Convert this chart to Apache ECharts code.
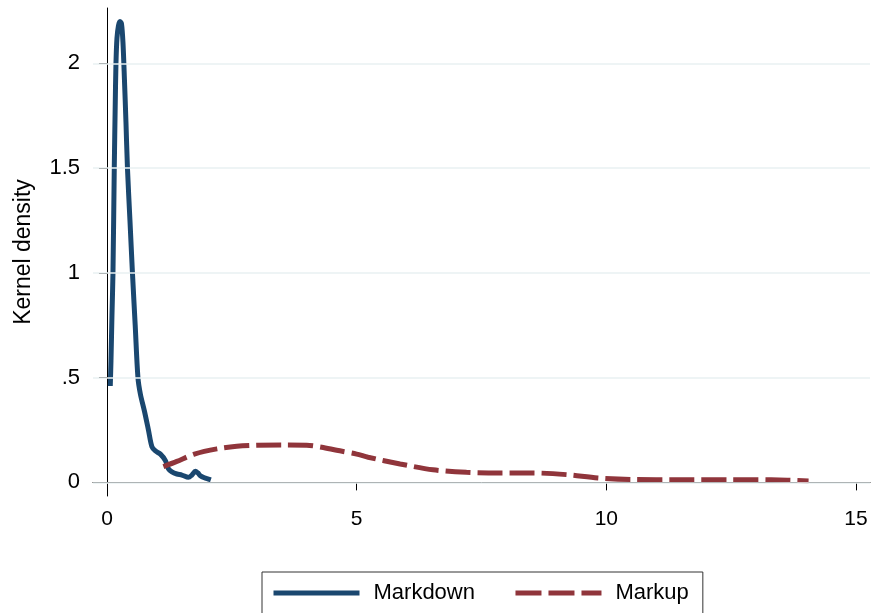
<!DOCTYPE html>
<html>
<head>
<meta charset="utf-8">
<script src="https://cdn.jsdelivr.net/npm/echarts@6/dist/echarts.min.js"></script>
<style>
html,body{margin:0;padding:0;background:#fff;}
#chart{width:871px;height:613px;}
</style>
</head>
<body>
<div id="chart"></div>
<script>
var seriesNames = ['Markdown', 'Markup'];
var xTicks = [0, 5, 10, 15];
var yTicks = [0, 0.5, 1, 1.5, 2];
var yTickLabels = ['0', '.5', '1', '1.5', '2'];
var markdownPoints = [
  [0.066,0.46],[0.08,0.58],[0.1,0.8],[0.12,1.0],[0.146,1.5],[0.165,1.8],[0.18,2.0],[0.2,2.12],
  [0.23,2.18],[0.26,2.2],[0.29,2.19],[0.32,2.1],[0.35,1.92],[0.38,1.72],[0.41,1.5],[0.46,1.25],
  [0.51,1.0],[0.565,0.75],[0.62,0.5],[0.67,0.42],[0.75,0.34],[0.83,0.25],[0.9,0.17],[0.97,0.15],
  [1.07,0.135],[1.17,0.104],[1.23,0.065],[1.3,0.05],[1.4,0.04],[1.5,0.035],[1.63,0.024],
  [1.7,0.035],[1.77,0.053],[1.82,0.045],[1.87,0.032],[1.95,0.022],[2.03,0.016],[2.08,0.012]
];
var markupPoints = [
  [1.13,0.075],[1.4,0.1],[1.75,0.135],[2.2,0.16],[2.6,0.172],[3.0,0.177],[3.5,0.178],[4.0,0.177],
  [4.3,0.168],[4.6,0.153],[5.0,0.135],[5.23,0.12],[5.87,0.088],[6.53,0.06],[7.2,0.048],[7.87,0.045],
  [8.53,0.045],[9.2,0.037],[9.83,0.021],[10.5,0.014],[11.5,0.013],[12.5,0.013],[13.3,0.012],[14.05,0.007]
];

var chart = echarts.init(document.getElementById('chart'), null, {renderer: 'canvas'});
var font = '"Liberation Sans", Arial, sans-serif';
var navy = '#1a476f';
var maroon = '#90353b';
var option = {
  animation: false,
  backgroundColor: '#fff',
  grid: {left: 93, right: 1, top: 8, bottom: 117, containLabel: false},
  xAxis: {
    type: 'value', min: -0.28, max: 15.28,
    axisLine: {show: true, lineStyle: {color: '#000', width: 1}},
    axisTick: {show: true, length: 8, lineStyle: {color: '#000'}, customValues: xTicks},
    axisLabel: {customValues: xTicks, color: '#000', fontSize: 21, fontFamily: font, margin: 13},
    splitLine: {show: false}
  },
  yAxis: {
    type: 'value', min: -0.065, max: 2.264,
    name: 'Kernel density', nameLocation: 'middle', nameGap: 58,
    nameTextStyle: {color: '#000', fontSize: 23, fontFamily: font},
    axisLine: {show: true, lineStyle: {color: '#000', width: 1}},
    axisTick: {show: true, length: 8, lineStyle: {color: '#000'}, customValues: yTicks},
    axisLabel: {
      customValues: yTicks, color: '#000', fontSize: 22, fontFamily: font, margin: 13,
      formatter: function (v) {
        var i = yTicks.indexOf(v);
        return i >= 0 ? yTickLabels[i] : '';
      }
    },
    splitLine: {show: false}
  },
  legend: {
    data: [
      {name: seriesNames[0], itemStyle: {opacity: 0}, lineStyle: {width: 5, color: navy, type: 'solid'}},
      {name: seriesNames[1], itemStyle: {opacity: 0}, lineStyle: {width: 5, color: maroon, type: [26, 7]}}
    ],
    left: 262, top: 572,
    orient: 'horizontal',
    itemWidth: 86, itemHeight: 22, itemGap: 38,
    padding: [10, 14, 40, 9],
    borderColor: '#333', borderWidth: 1,
    backgroundColor: '#fff',
    textStyle: {color: '#000', fontSize: 22, fontFamily: font, padding: [0, 0, 0, 9]}
  },
  series: [
    {
      name: 'gridlines', type: 'line', data: [], silent: true,
      markLine: {
        silent: true, symbol: 'none', label: {show: false},
        lineStyle: {color: '#e8f0f2', width: 1.5, type: 'solid'},
        data: yTicks.map(function (v) { return {yAxis: v}; })
      }
    },
    {
      name: seriesNames[0], type: 'line', data: markdownPoints, symbol: 'none', smooth: 0.3,
      lineStyle: {color: navy, width: 5, type: 'solid'}, itemStyle: {color: navy}, z: 3
    },
    {
      name: seriesNames[1], type: 'line', data: markupPoints, symbol: 'none', smooth: 0.3,
      lineStyle: {color: maroon, width: 5, type: [25, 7]}, itemStyle: {color: maroon}, z: 4
    }
  ]
};
chart.setOption(option);
</script>
</body>
</html>
